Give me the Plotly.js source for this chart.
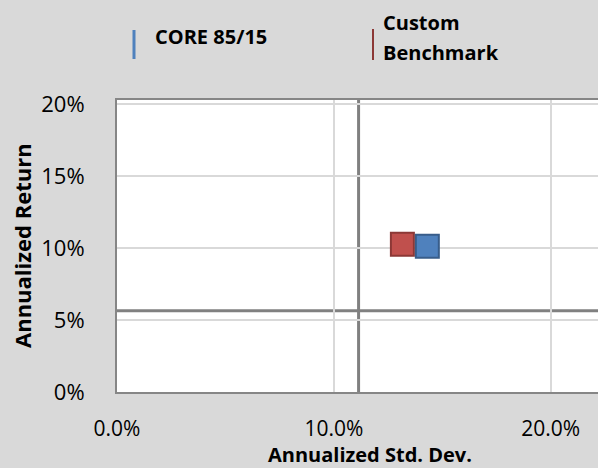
<!DOCTYPE html>
<html><head><meta charset="utf-8">
<script src="https://cdn.plot.ly/plotly-3.0.1.min.js"></script>
<style>body{margin:0;padding:0;background:#d9d9d9}#c{width:598px;height:468px}</style>
</head><body><div id="c"></div>
<script>
var seriesNames = ["CORE 85/15", "Custom Benchmark"];
var stdDev = [14.31, 13.16];
var annReturn = [10.13, 10.27];
var fillColors = ["#4f81bd", "#c0504d"];
var edgeColors = ["#385d8a", "#8c3836"];
var xTicks = [0, 10, 20];
var xTickText = ["0.0%", "10.0%", "20.0%"];
var yTicks = [0, 5, 10, 15, 20];
var yTickText = ["0%", "5%", "10%", "15%", "20%"];
var refStdDev = [11.14];
var refReturn = [5.64];

var W = 598, H = 468, L = 117, R = 0, T = 100, B = 76;
function px(x){ return (x - L) / (W - L - R); }
function py(y){ return (H - B - y) / (H - T - B); }
var font = "'Open Sans', sans-serif";

// draw red first then blue on top (blue overlaps red)
var traces = [1, 0].map(function(i){
  return {
    type: "scatter", mode: "markers", name: seriesNames[i],
    x: [stdDev[i]], y: [annReturn[i]], showlegend: false,
    marker: {symbol: "square", size: 23, color: fillColors[i], line: {color: edgeColors[i], width: 2}},
    hoverinfo: "x+y+name"
  };
});

var shapes = [
  {type: "line", xref: "x", yref: "paper", x0: refStdDev[0], x1: refStdDev[0], y0: 0, y1: 1, line: {color: "#808080", width: 3}, layer: "below"},
  {type: "line", xref: "paper", yref: "y", x0: 0, x1: 1, y0: refReturn[0], y1: refReturn[0], line: {color: "#808080", width: 3}, layer: "below"},
  // legend bars
  {type: "line", xref: "paper", yref: "paper", x0: px(134), x1: px(134), y0: py(30), y1: py(59), line: {color: fillColors[0], width: 3}},
  {type: "line", xref: "paper", yref: "paper", x0: px(373), x1: px(373), y0: py(29), y1: py(60), line: {color: edgeColors[1], width: 2}}
];

function ann(text, x, y, size, xanchor, angle){
  return {xref: "paper", yref: "paper", x: px(x), y: py(y), xanchor: xanchor, yanchor: "middle",
    showarrow: false, textangle: angle || 0, text: "<b>" + text + "</b>",
    font: {family: font, size: size, color: "#000"}};
}

var annotations = [
  ann(seriesNames[0], 153, 37, 20, "left"),
  ann("Custom", 381, 22, 20, "left"),
  ann("Benchmark", 381, 53, 20, "left"),
  ann("Annualized Std. Dev.", 370, 454, 20, "center"),
  ann("Annualized Return", 22, 246, 22, "center", -90)
];

var layout = {
  width: W, height: H,
  margin: {l: L, r: R, t: T, b: B, pad: 0},
  paper_bgcolor: "#d9d9d9", plot_bgcolor: "#ffffff",
  font: {family: font, size: 20, color: "#000"},
  showlegend: false,
  xaxis: {
    range: [0, 22.18], tickvals: xTicks, ticktext: xTickText,
    showgrid: true, gridcolor: "#d9d9d9", gridwidth: 2, zeroline: false,
    showline: true, linecolor: "#868686", linewidth: 2, mirror: true,
    ticks: "", ticklabelstandoff: 17,
    tickfont: {family: font, size: 21, color: "#000"}
  },
  yaxis: {
    range: [0, 20.3], tickvals: yTicks, ticktext: yTickText,
    showgrid: true, gridcolor: "#d9d9d9", gridwidth: 2, zeroline: false,
    showline: true, linecolor: "#868686", linewidth: 2, mirror: true,
    ticks: "", ticklabelstandoff: 26,
    tickfont: {family: font, size: 22, color: "#000"}
  },
  shapes: shapes, annotations: annotations
};

Plotly.newPlot("c", traces, layout, {displayModeBar: false, staticPlot: true});
</script>
</body></html>
